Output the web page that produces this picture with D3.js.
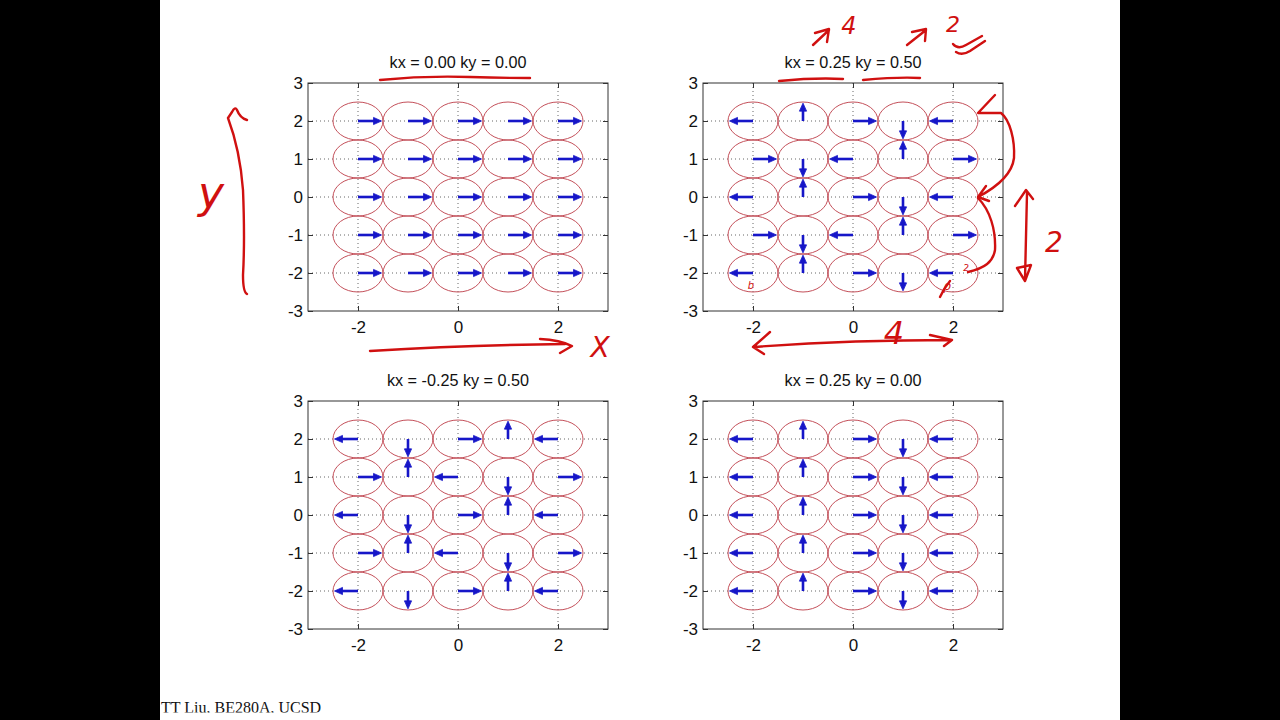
<!DOCTYPE html>
<html>
<head>
<meta charset="utf-8">
<script src="https://cdn.jsdelivr.net/npm/d3@7"></script>
<style>
  html, body { margin: 0; padding: 0; background: #000; }
  svg { display: block; }
</style>
</head>
<body>
<svg id="chart" width="1280" height="720"></svg>
<script>
// ---------- data ----------
const panelTitles = ["kx = 0.00 ky = 0.00", "kx = 0.25 ky = 0.50", "kx = -0.25 ky = 0.50", "kx = 0.25 ky = 0.00"];
const gridX = [-2, -1, 0, 1, 2];
const gridY = [2, 1, 0, -1, -2];           // row order (top to bottom)
const xTicks = [-2, 0, 2];
const yTicks = [-3, -2, -1, 0, 1, 2, 3];
const xGrid = [-2, 0, 2];
const yGrid = [-2, -1, 0, 1, 2];
// arrow directions: R right, L left, U up, D down (rows y=2..-2, cols x=-2..2)
const dirs1 = [
  ["R","R","R","R","R"],
  ["R","R","R","R","R"],
  ["R","R","R","R","R"],
  ["R","R","R","R","R"],
  ["R","R","R","R","R"]];
const dirs2 = [
  ["L","U","R","D","L"],
  ["R","D","L","U","R"],
  ["L","U","R","D","L"],
  ["R","D","L","U","R"],
  ["L","U","R","D","L"]];
const dirs3 = [
  ["L","D","R","U","L"],
  ["R","U","L","D","R"],
  ["L","D","R","U","L"],
  ["R","U","L","D","R"],
  ["L","D","R","U","L"]];
const dirs4 = [
  ["L","U","R","D","L"],
  ["L","U","R","D","L"],
  ["L","U","R","D","L"],
  ["L","U","R","D","L"],
  ["L","U","R","D","L"]];
const panelDirs = [dirs1, dirs2, dirs3, dirs4];
const circleRadius = 0.5;
const arrowLen = 0.47;
const footerText = "TT Liu, BE280A, UCSD";

// ---------- layout ----------
const W = 1280, H = 720;
const panelBoxes = [
  {x0: 308, x1: 608, y0: 83, y1: 311},
  {x0: 703, x1: 1003, y0: 83, y1: 311},
  {x0: 308, x1: 608, y0: 401, y1: 629},
  {x0: 703, x1: 1003, y0: 401, y1: 629}
];
const dirVec = {R: [1, 0], L: [-1, 0], U: [0, 1], D: [0, -1]};

const svg = d3.select("#chart");
svg.append("rect").attr("x", 160).attr("y", 0).attr("width", 960).attr("height", H).attr("fill", "#fff");

const FONT = "'Liberation Sans', Arial, Helvetica, sans-serif";

panelBoxes.forEach((b, pi) => {
  const x = d3.scaleLinear().domain([-3, 3]).range([b.x0, b.x1]);
  const y = d3.scaleLinear().domain([-3, 3]).range([b.y1, b.y0]);
  const g = svg.append("g");

  // grid lines (dotted)
  g.selectAll(".gx").data(xGrid).join("line")
    .attr("x1", d => x(d)).attr("x2", d => x(d))
    .attr("y1", b.y0).attr("y2", b.y1)
    .attr("stroke", "#666").attr("stroke-width", 1).attr("stroke-dasharray", "1,3");
  g.selectAll(".gy").data(yGrid).join("line")
    .attr("y1", d => y(d)).attr("y2", d => y(d))
    .attr("x1", b.x0).attr("x2", b.x1)
    .attr("stroke", "#666").attr("stroke-width", 1).attr("stroke-dasharray", "1,3");

  // axes
  const axL = d3.axisLeft(y).tickValues(yTicks).tickSizeInner(-5).tickSizeOuter(0).tickPadding(5).tickFormat(d3.format("d"));
  const axB = d3.axisBottom(x).tickValues(xTicks).tickSizeInner(-5).tickSizeOuter(0).tickPadding(10).tickFormat(d3.format("d"));
  const axR = d3.axisRight(y).tickValues(yTicks).tickSizeInner(-5).tickSizeOuter(0).tickFormat("");
  const axT = d3.axisTop(x).tickValues(xTicks).tickSizeInner(-5).tickSizeOuter(0).tickFormat("");
  [[axL, `translate(${b.x0},0)`], [axB, `translate(0,${b.y1})`], [axR, `translate(${b.x1},0)`], [axT, `translate(0,${b.y0})`]]
    .forEach(([ax, tr]) => {
      const a = g.append("g").attr("transform", tr).call(ax);
      a.select(".domain").remove();
      a.selectAll("line").attr("stroke", "#333");
      a.selectAll("text").attr("fill", "#111").style("font-family", FONT).style("font-size", "17px")
        .text(function() { return d3.select(this).text().replace("−", "-"); });
    });
  g.append("rect").attr("x", b.x0).attr("y", b.y0).attr("width", b.x1 - b.x0).attr("height", b.y1 - b.y0)
    .attr("fill", "none").attr("stroke", "#333").attr("stroke-width", 1);

  // title
  g.append("text").attr("x", (b.x0 + b.x1) / 2).attr("y", b.y0 - 15)
    .attr("text-anchor", "middle").style("font-family", FONT).style("font-size", "16.2px").attr("fill", "#111")
    .text(panelTitles[pi]);

  // circles & arrows
  const cells = [];
  gridY.forEach((yy, r) => gridX.forEach((xx, c) => cells.push({x: xx, y: yy, d: panelDirs[pi][r][c]})));

  g.selectAll(".circ").data(cells).join("ellipse")
    .attr("cx", d => x(d.x)).attr("cy", d => y(d.y))
    .attr("rx", x(circleRadius) - x(0)).attr("ry", y(0) - y(circleRadius))
    .attr("fill", "none").attr("stroke", "#c4505a").attr("stroke-width", 1);

  const headL = 8, headW = 3.6;
  cells.forEach(d => {
    const v = dirVec[d.d];
    const sx = x(d.x), sy = y(d.y);
    const ex = x(d.x + v[0] * arrowLen), ey = y(d.y + v[1] * arrowLen);
    const len = Math.hypot(ex - sx, ey - sy);
    const ux = (ex - sx) / len, uy = (ey - sy) / len;
    const bx = ex - ux * headL, by = ey - uy * headL;
    g.append("line").attr("x1", sx).attr("y1", sy).attr("x2", bx + ux).attr("y2", by + uy)
      .attr("stroke", "#1616c8").attr("stroke-width", 2.6);
    g.append("path")
      .attr("d", `M${ex},${ey}L${bx - uy * headW},${by + ux * headW}L${bx + uy * headW},${by - ux * headW}Z`)
      .attr("fill", "#1616c8").attr("stroke", "#1616c8").attr("stroke-width", 0.8);
  });
});

// footer
svg.append("clipPath").attr("id", "footclip").append("rect").attr("x", 160).attr("y", 690).attr("width", 300).attr("height", 22.5);
svg.append("text").attr("x", 161).attr("y", 712.5).attr("clip-path", "url(#footclip)")
  .style("font-family", "'Liberation Serif', 'Times New Roman', serif").style("font-size", "16px").attr("fill", "#111")
  .text(footerText);

// ---------- handwritten annotations (pen strokes on the slide) ----------
const ink = "#d01010";
const strokes = [
  "M380,80 C410,77 440,76 470,77 S515,78 530,78",
  "M779,81 C800,79 825,78 843,79",
  "M863,80 C885,78 905,77 920,78",
  "M813,45 L829,30 M815,33 L829,29 L827,42",
  "M907,45 L926,30 M912,32 L926,29 L925,41",
  "M953,44 Q958,50 966,45 L982,36 M956,52 Q962,56 970,51 L985,41",
  "M247,120 Q240,118 237,110 Q235,106 232,112 L228,118 Q240,150 243,190 Q245,240 243,275 Q243,292 247,294",
  "M370,351 Q470,345 565,344 M540,339 Q560,340 572,346 L560,353",
  "M995,95 L978,113 L1001,113 C1010,120 1015,140 1014,158 C1012,175 995,188 978,197 M986,186 L978,197 L989,201",
  "M978,198 C990,210 996,230 995,250 C993,262 985,268 968,272",
  "M1027,193 L1025,280 M1015,206 L1026,190 L1033,199 M1017,268 L1025,281 L1031,265 Z",
  "M753,347 Q850,340 952,340 M770,332 L753,347 L764,354 M930,335 L952,340 L944,346",
  "M950,281 Q944,288 940,297"
];
svg.append("g").selectAll("path").data(strokes).join("path")
  .attr("d", d => d).attr("fill", "none").attr("stroke", ink).attr("stroke-width", 2.4)
  .attr("stroke-linecap", "round").attr("stroke-linejoin", "round");

const inkTexts = [
  {t: "4", x: 849, y: 34, s: 24},
  {t: "2", x: 953, y: 32, s: 22},
  {t: "y", x: 211, y: 208, s: 44},
  {t: "X", x: 600, y: 357, s: 28},
  {t: "2", x: 1054, y: 252, s: 28},
  {t: "4", x: 894, y: 344, s: 32},
  {t: "b", x: 751, y: 289, s: 10},
  {t: "ρ", x: 947, y: 290, s: 12},
  {t: "2", x: 966, y: 271, s: 9}
];
svg.append("g").selectAll("text").data(inkTexts).join("text")
  .attr("x", d => d.x).attr("y", d => d.y).attr("text-anchor", "middle")
  .style("font-family", "'DejaVu Sans', sans-serif").style("font-style", "italic").style("font-weight", "300")
  .style("font-size", d => d.s + "px").attr("fill", ink).text(d => d.t);
</script>
</body>
</html>
